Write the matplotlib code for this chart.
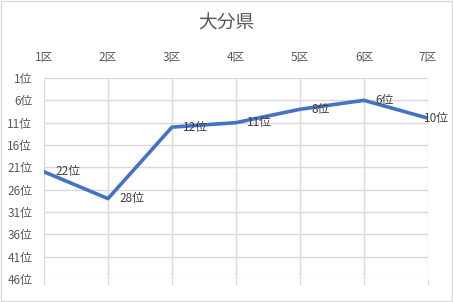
import matplotlib
matplotlib.use("Agg")
import matplotlib.pyplot as plt
from matplotlib.patches import Rectangle

plt.rcParams['font.family'] = ['Noto Sans CJK JP', 'DejaVu Sans']

title = "大分県"
categories = ["1区", "2区", "3区", "4区", "5区", "6区", "7区"]
ranks = [22, 28, 12, 11, 8, 6, 10]
ytick_values = [1, 6, 11, 16, 21, 26, 31, 36, 41, 46]
ytick_labels = [f"{v}位" for v in ytick_values]
data_labels = [f"{v}位" for v in ranks]

grid_color = "#D9D9D9"
text_color = "#595959"
line_color = "#4472C4"

fig = plt.figure(figsize=(4.53, 3.02), dpi=100)
fig.patches.append(Rectangle((0.002, 0.003), 0.996, 0.994, transform=fig.transFigure,
                             fill=False, edgecolor=grid_color, linewidth=1.0))
ax = fig.add_axes([44 / 453, 1 - 279 / 302, (428 - 44) / 453, (279 - 78) / 302])

x = list(range(len(categories)))
ax.plot(x, ranks, color=line_color, linewidth=2.6, solid_joinstyle='round', zorder=3)
n = len(ranks)
for i, (xi, yi, lab) in enumerate(zip(x, ranks, data_labels)):
    dx = 8 if i < n - 1 else -3
    ax.annotate(lab, (xi, yi), xytext=(dx, 0), textcoords='offset points',
                ha='left', va='center', fontsize=8.5, color="#404040", zorder=4,
                annotation_clip=False)

ax.set_xlim(0, len(categories) - 1)
ax.set_ylim(46, 1)
ax.set_xticks(x)
ax.set_xticklabels(categories)
ax.set_yticks(ytick_values)
ax.set_yticklabels(ytick_labels)

ax.tick_params(axis='x', bottom=True, top=False, labelbottom=False, labeltop=True,
               length=4, color=grid_color, labelsize=8.5, labelcolor=text_color, pad=6)
ax.tick_params(axis='y', left=False, right=False, labelsize=8.5, labelcolor=text_color, pad=5)

ax.grid(True, color=grid_color, linewidth=1.0)
ax.set_axisbelow(True)
for s in ax.spines.values():
    s.set_visible(False)

fig.text(0.5, 1 - 23 / 302, title, ha='center', va='center', fontsize=13.5, color=text_color)

fig.savefig("out.png", dpi=100)
